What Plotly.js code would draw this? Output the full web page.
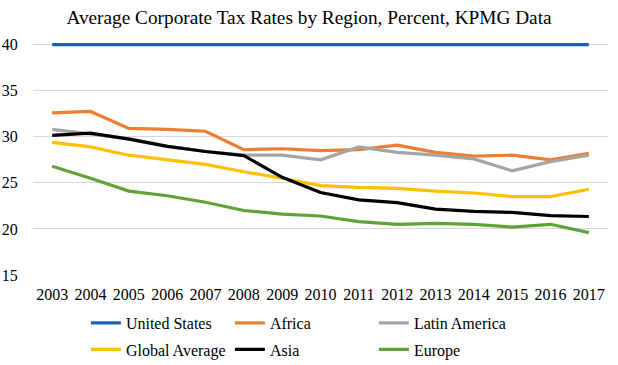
<!DOCTYPE html>
<html>
<head>
<meta charset="utf-8">
<script src="https://cdn.plot.ly/plotly-3.0.1.min.js"></script>
<style>html,body{margin:0;padding:0;background:#fff;}#chart{width:618px;height:365px;}</style>
</head>
<body>
<div id="chart"></div>
<script>
var years = ["2003","2004","2005","2006","2007","2008","2009","2010","2011","2012","2013","2014","2015","2016","2017"];
var unitedStates = [40,40,40,40,40,40,40,40,40,40,40,40,40,40,40];
var africa = [32.6,32.75,30.9,30.8,30.6,28.6,28.7,28.5,28.6,29.1,28.3,27.9,28.0,27.5,28.2];
var latinAmerica = [30.8,30.3,29.8,29.0,28.4,28.0,28.0,27.5,28.9,28.3,28.0,27.6,26.3,27.3,28.0];
var globalAverage = [29.4,28.9,28.0,27.5,27.0,26.2,25.5,24.7,24.5,24.4,24.1,23.9,23.5,23.5,24.3];
var asia = [30.15,30.4,29.75,28.95,28.4,27.95,25.6,23.95,23.15,22.85,22.15,21.9,21.8,21.45,21.35];
var europe = [26.8,25.5,24.1,23.6,22.9,22.0,21.6,21.4,20.8,20.5,20.6,20.5,20.2,20.5,19.6];

var FONT = 'Liberation Serif, serif';
function tr(name, y, color, legend) {
  return {x: years, y: y, name: name, type: 'scatter', mode: 'lines',
    line: {color: color, width: 3.2}, legend: legend, hoverinfo: 'skip'};
}
var data = [
  tr('United States', unitedStates, '#1a5fb4', 'legend'),
  tr('Africa', africa, '#ed7d31', 'legend'),
  tr('Latin America', latinAmerica, '#a5a5a5', 'legend'),
  tr('Global Average', globalAverage, '#ffc000', 'legend2'),
  tr('Asia', asia, '#000000', 'legend2'),
  tr('Europe', europe, '#5fa336', 'legend2')
];
var legendCommon = {orientation: 'h', x: 0.092, xanchor: 'left', yanchor: 'middle',
  font: {family: FONT, size: 16, color: '#000'}, entrywidth: 99, entrywidthmode: 'pixels',
  bgcolor: 'rgba(0,0,0,0)', borderwidth: 0, itemclick: false, itemdoubleclick: false};
var layout = {
  width: 618, height: 365,
  margin: {l: 33, r: 10, t: 40.4, b: 90},
  paper_bgcolor: '#fff', plot_bgcolor: '#fff',
  font: {family: FONT, size: 16, color: '#000'},
  title: {text: 'Average Corporate Tax Rates by Region, Percent, KPMG Data',
    font: {family: FONT, size: 19.3, color: '#000'}, x: 0.5, xanchor: 'center',
    y: 1 - 17/365, yanchor: 'middle'},
  xaxis: {type: 'category', range: [-0.5, 14.5], showgrid: false, zeroline: false,
    showline: false, ticks: 'outside', ticklen: 5, tickcolor: 'rgba(0,0,0,0)',
    tickfont: {family: FONT, size: 16, color: '#000'}, fixedrange: true},
  yaxis: {range: [15, 40.5], tickvals: [15,20,25,30,35,40], showgrid: true,
    gridcolor: '#d9d9d9', gridwidth: 1, zeroline: false, showline: false,
    ticks: 'outside', ticklen: 11, tickcolor: 'rgba(0,0,0,0)',
    tickfont: {family: FONT, size: 16, color: '#000'}, fixedrange: true},
  showlegend: true,
  legend: Object.assign({}, legendCommon, {y: (365-323)/365, yref: 'container'}),
  legend2: Object.assign({}, legendCommon, {y: (365-349.5)/365, yref: 'container'})
};
Plotly.newPlot('chart', data, layout, {displayModeBar: false, staticPlot: true});
</script>
</body>
</html>
